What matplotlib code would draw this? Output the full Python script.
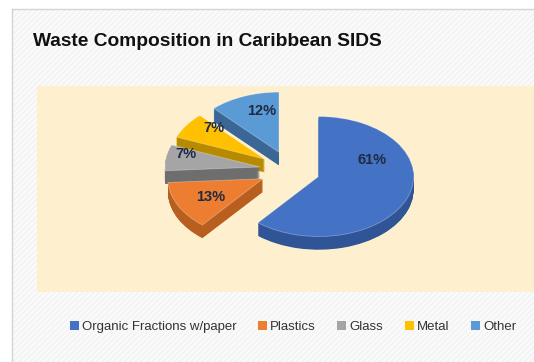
import matplotlib.pyplot as plt
from matplotlib.patches import Rectangle, Patch
from matplotlib.lines import Line2D

labels = ['Organic Fractions w/paper', 'Plastics', 'Glass', 'Metal', 'Other']
shares = [61, 13, 7, 7, 12]
top_colors = ['#4472C4', '#ED7D31', '#A5A5A5', '#FFC000', '#5B9BD5']
side_colors = ['#2F5597', '#B85E1E', '#6E6E6E', '#B88A00', '#3A6796']

# nudges for the percentage labels (data units) so they sit on the raised faces
label_nudge = [(0.0, 0.48), (-0.02, -0.03), (-0.19, 0.13), (-0.04, 0.18), (0.04, 0.13)]

W, H = 534, 362
fig = plt.figure(figsize=(W / 100, H / 100), dpi=100)
fig.patch.set_facecolor('white')

# chart panel with faint diagonal texture
plt.rcParams['hatch.linewidth'] = 1.2
panel = Rectangle((12 / W, 0), 1, 1 - 9 / H, transform=fig.transFigure,
                  facecolor='#f4f4f4', edgecolor='#fcfcfc', hatch='//////',
                  linewidth=0, zorder=-5)
fig.patches.append(panel)
fig.lines.append(Line2D([12 / W, 12 / W], [0, 1 - 9 / H], transform=fig.transFigure,
                        color='#d4d4d4', lw=1, zorder=-4))
fig.lines.append(Line2D([12 / W, 1], [1 - 9 / H, 1 - 9 / H], transform=fig.transFigure,
                        color='#d4d4d4', lw=1, zorder=-4))

fig.text(33 / W, 1 - 41 / H, 'Waste Composition in Caribbean SIDS',
         fontsize=13.8, fontweight='bold', family=['Liberation Sans', 'DejaVu Sans'],
         va='center', ha='left', color='#111111')

# plot area
ax = fig.add_axes([37 / W, 1 - 292 / H, (W - 37) / W, (292 - 86) / H], zorder=2)
ax.set_facecolor('#FEF0CF')
for s in ax.spines.values():
    s.set_visible(False)

explode = [0.32] * len(shares)
depth = 0.22
steps = 24
for k in range(steps, 0, -1):
    dz = depth * k / steps
    ax.pie(shares, colors=side_colors, startangle=90, counterclock=False,
           explode=explode, center=(0, -dz), radius=1,
           wedgeprops=dict(linewidth=0), frame=True)

wedges, texts, autotexts = ax.pie(
    shares, colors=top_colors, startangle=90, counterclock=False,
    explode=explode, center=(0, 0), radius=1, autopct='%1.0f%%',
    pctdistance=0.6, wedgeprops=dict(linewidth=0.6, edgecolor='#ffffff55'),
    textprops=dict(fontsize=10.5, fontweight='bold', color='#1f2a44',
                   family=['Liberation Sans', 'DejaVu Sans']),
    frame=True)
for t, (dx, dy) in zip(autotexts, label_nudge):
    x, y = t.get_position()
    t.set_position((x + dx, y + dy))

ax.set_aspect('auto')
px_x, px_y = 95, 60
cx, cy = 290 - 37, 170 - 86
ax.set_xlim(-cx / px_x, (W - 37 - cx) / px_x)
ax.set_ylim(-(292 - 86 - cy) / px_y, cy / px_y)
ax.set_xticks([])
ax.set_yticks([])

handles = [Patch(facecolor=c, edgecolor='none') for c in top_colors]
fig.legend(handles, labels, loc='center', bbox_to_anchor=(293 / W, 1 - 327 / H),
           ncol=5, frameon=False, handlelength=0.7, handleheight=0.7,
           handletextpad=0.25, columnspacing=1.6, labelcolor='#333333',
           prop=dict(family=['Liberation Sans', 'DejaVu Sans'], size=9.5))

fig.savefig('out.png', dpi=100)
